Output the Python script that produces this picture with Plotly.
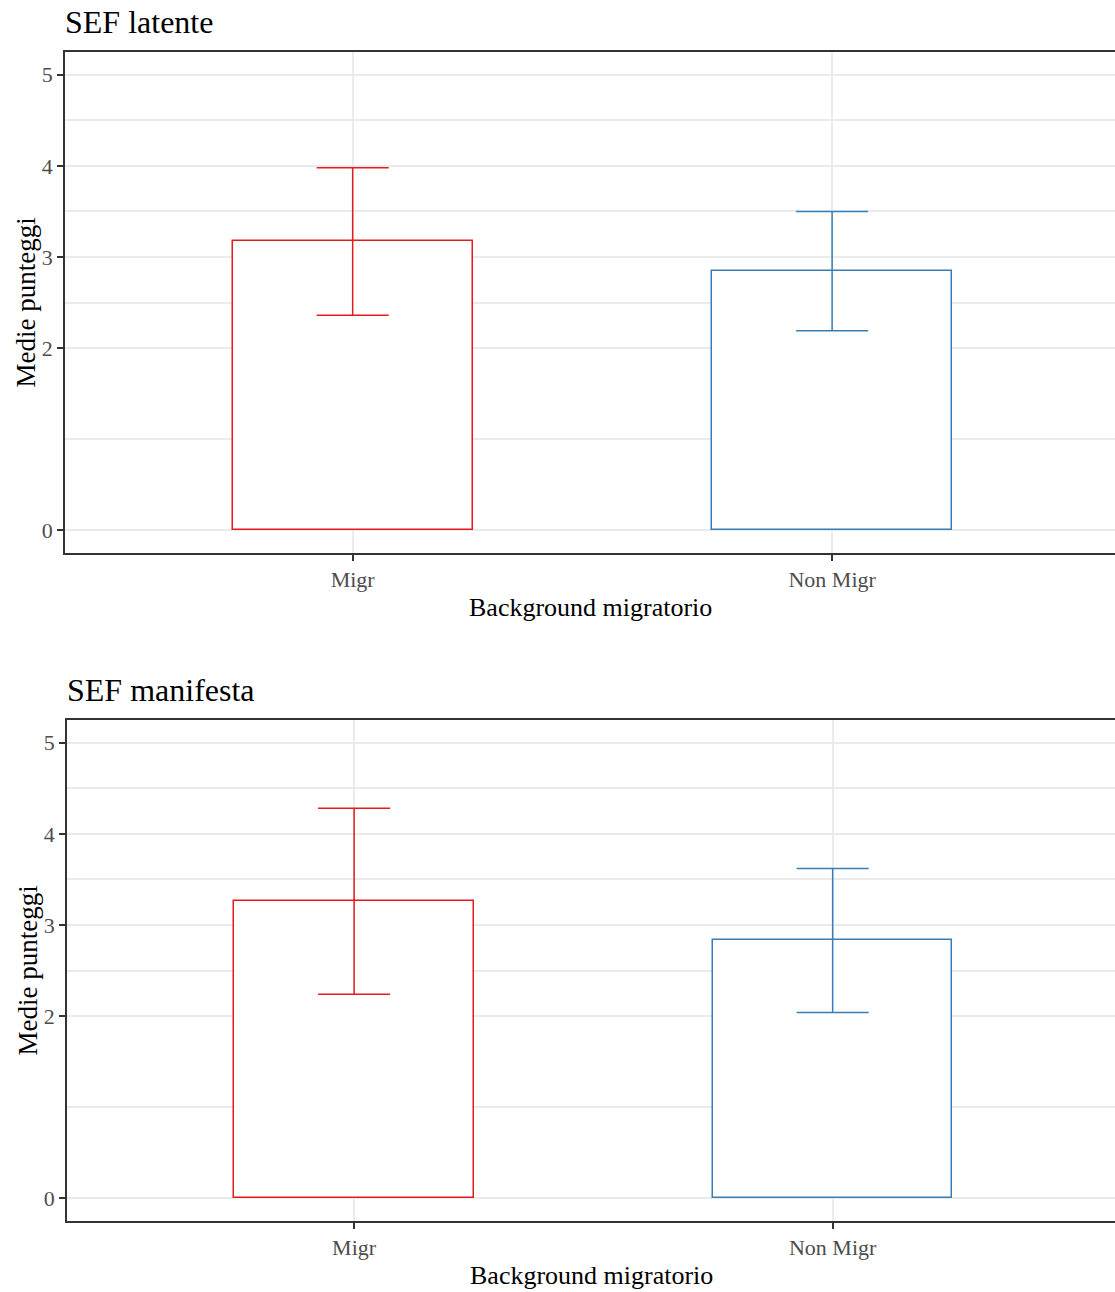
import plotly.graph_objects as go

categories = ["Migr", "Non Migr"]
colors = ["#E41A1C", "#377EB8"]

titles = ["SEF latente", "SEF manifesta"]
means_latente = [3.18, 2.85]
lower_latente = [2.36, 2.19]
upper_latente = [3.98, 3.50]

means_manifesta = [3.26, 2.83]
lower_manifesta = [2.24, 2.04]
upper_manifesta = [4.28, 3.62]

y_tickvals = [0, 2, 3, 4, 5]
y_minor = [1, 2.5, 3.5, 4.5]

panels = [
    (means_latente, lower_latente, upper_latente),
    (means_manifesta, lower_manifesta, upper_manifesta),
]

W, H = 1115, 1292
FONT = "Liberation Serif"
# panel pixel boxes in page coordinates: (left, top, bottom)
boxes = [(65, 52, 553), (67, 720, 1221)]


def px(xp):
    return xp / W


def py(yp):
    return (H - yp) / H


fig = go.Figure()
layout = dict(
    width=W, height=H,
    margin=dict(l=0, r=0, t=0, b=0),
    paper_bgcolor="white", plot_bgcolor="white",
    showlegend=False,
    font=dict(family=FONT),
    annotations=[],
    bargap=0,
)

for i, (m, lo, up) in enumerate(panels):
    xa = "x" if i == 0 else f"x{i+1}"
    ya = "y" if i == 0 else f"y{i+1}"
    for j, cat in enumerate(categories):
        fig.add_trace(go.Bar(
            x=[cat], y=[m[j]], width=[0.5],
            marker=dict(color="white", line=dict(color=colors[j], width=1.5)),
            error_y=dict(type="data", symmetric=False,
                         array=[up[j] - m[j]], arrayminus=[m[j] - lo[j]],
                         color=colors[j], thickness=1.5, width=36),
            xaxis=xa, yaxis=ya,
        ))
    left, top, bottom = boxes[i]
    xkey = "xaxis" if i == 0 else f"xaxis{i+1}"
    ykey = "yaxis" if i == 0 else f"yaxis{i+1}"
    layout[xkey] = dict(
        domain=[px(left), 1], anchor=ya, type="category",
        categoryorder="array", categoryarray=categories,
        range=[-0.6, 1.59],
        showgrid=True, gridcolor="#EBEBEB", gridwidth=1.5,
        showline=True, mirror=True, linecolor="#333333", linewidth=1.5,
        ticks="outside", ticklen=6, tickcolor="#333333", tickwidth=1.5,
        tickfont=dict(family=FONT, size=22, color="#4D4D4D"),
        zeroline=False,
    )
    layout[ykey] = dict(
        domain=[py(bottom), py(top)], anchor=xa,
        range=[-0.25, 5.25],
        tickvals=y_tickvals,
        showgrid=True, gridcolor="#EBEBEB", gridwidth=1.5,
        minor=dict(tickvals=y_minor, showgrid=True, gridcolor="#EBEBEB", gridwidth=1.5, ticks=""),
        showline=True, mirror=False, linecolor="#333333", linewidth=1.5,
        ticks="outside", ticklen=6, tickcolor="#333333", tickwidth=1.5,
        tickfont=dict(family=FONT, size=22, color="#4D4D4D"),
        zeroline=False,
    )
    center_x = (left + W) / 2
    center_y = (top + bottom) / 2
    layout["annotations"] += [
        dict(text=titles[i], xref="paper", yref="paper",
             x=px(left - 2), y=py(top - 30), xanchor="left", yanchor="middle",
             showarrow=False, font=dict(family=FONT, size=32, color="black")),
        dict(text="Background migratorio", xref="paper", yref="paper",
             x=px(center_x), y=py(bottom + 54), xanchor="center", yanchor="middle",
             showarrow=False, font=dict(family=FONT, size=26, color="black")),
        dict(text="Medie punteggi", xref="paper", yref="paper", textangle=-90,
             x=px(left - 40), y=py(center_y), xanchor="center", yanchor="middle",
             showarrow=False, font=dict(family=FONT, size=27, color="black")),
    ]

fig.update_layout(**layout)
fig.write_html(
    "out.html",
    config={"displayModeBar": False},
    post_script="document.body.style.margin='0';document.body.style.overflow='hidden';",
)
